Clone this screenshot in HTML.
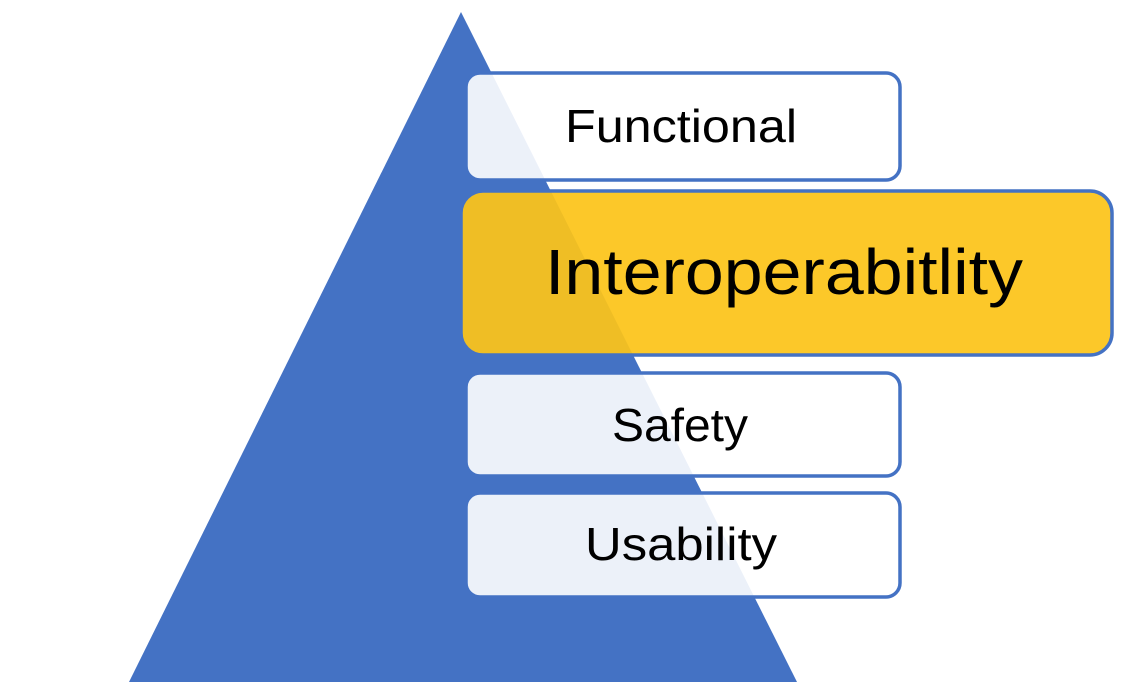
<!DOCTYPE html>
<html><head><style>
body{margin:0;width:1133px;height:682px;background:#fff;overflow:hidden;}
</style></head><body>
<svg width="1133" height="682" xmlns="http://www.w3.org/2000/svg" style="position:absolute;left:0;top:0">
<polygon points="461,12 129,682 797,682" fill="#4472C4"/>
<g stroke="#4472C4" stroke-width="3.5">
<rect x="466" y="73" width="434" height="107" rx="14" fill="rgba(255,255,255,0.9)"/>
<rect x="461" y="191" width="651" height="164" rx="22" fill="rgba(252,196,25,0.93)"/>
<rect x="466" y="373" width="434" height="103" rx="14" fill="rgba(255,255,255,0.9)"/>
<rect x="466" y="493" width="434" height="104" rx="14" fill="rgba(255,255,255,0.9)"/>
</g>
<g font-family="Liberation Sans, sans-serif" fill="#000" lengthAdjust="spacingAndGlyphs">
<text x="565" y="142" font-size="46" textLength="232" lengthAdjust="spacingAndGlyphs">Functional</text>
<text x="545" y="294" font-size="64" textLength="478" lengthAdjust="spacingAndGlyphs">Interoperabitlity</text>
<text x="612" y="441" font-size="46" textLength="136" lengthAdjust="spacingAndGlyphs">Safety</text>
<text x="585" y="560" font-size="46" textLength="192" lengthAdjust="spacingAndGlyphs">Usability</text>
</g>
</svg>
</body></html>
